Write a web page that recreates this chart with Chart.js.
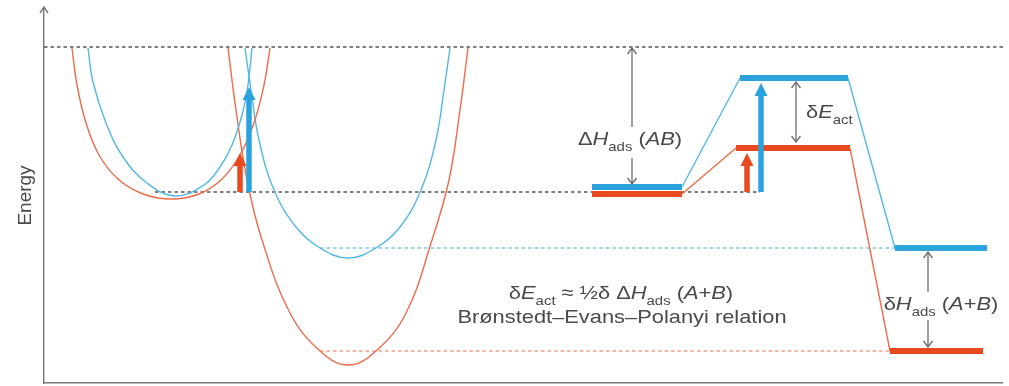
<!DOCTYPE html>
<html lang="en">
<head>
<meta charset="UTF-8">
<title>Brønstedt–Evans–Polanyi relation</title>
<script src="https://cdn.jsdelivr.net/npm/chart.js"></script>
<style>
  html, body { margin: 0; padding: 0; background: #fff; }
  canvas { display: block; }
</style>
</head>
<body>
<canvas id="bep" width="1009" height="386"></canvas>
<script>
// values, x = reaction coordinate, y = energy (arbitrary units)
const levelGas = 336;       // AB in the gas phase
const levelAB = 191;        // adsorbed AB
const levelBlueAB = 196;
const levelRedAB = 189;
const levelBlueTS = 305;
const levelRedTS = 235;
const levelBlueProd = 135;
const levelRedProd = 32;

// potential curves: adsorbed AB well and dissociated A+B well
const redWellAB = [[28,335],[33,298],[42,260],[55,228],[74,204],[99,189],[127,184],[155,189],[178,204],[196,228],[210,260],[220,298],[226,335]];
const blueWellAB = [[44,335],[49,301],[62,260],[79,226],[103,200],[131,187],[160,198],[176,216],[188,238],[198,268],[204,298],[208,335]];
const redWellProd = [[184,335],[192,273],[203,203],[218,143],[246,70],[276,32],[304,18],[332,32],[362,70],[388,143],[405,203],[416,273],[424,335]];
const blueWellProd = [[201,335],[207,293],[215,243],[230,193],[252,156],[276,135],[304,125],[332,135],[356,156],[377,193],[392,243],[400,293],[406,335]];

// energy diagram: initial state, transition state, final state
const bluePath = [[548,levelBlueAB],[638,levelBlueAB],[696,levelBlueTS],[804,levelBlueTS],[851,levelBlueProd],[943,levelBlueProd]];
const redPath = [[548,levelRedAB],[638,levelRedAB],[692,levelRedTS],[806,levelRedTS],[846,levelRedProd],[939,levelRedProd]];

// reference lines
const gasLine = [[0,levelGas],[962,levelGas]];
const abLine = [[111,levelAB],[716,levelAB]];
const blueProdLine = [[276,levelBlueProd],[851,levelBlueProd]];
const redProdLine = [[276,levelRedProd],[846,levelRedProd]];

// activation arrows
const redArrowWell = [[196,levelAB],[196,230]];
const blueArrowWell = [[205,levelAB],[205,296]];
const redArrowTS = [[703,levelAB],[703,230]];
const blueArrowTS = [[717,levelAB],[717,300]];

// gray dimension arrows
const dHabUp = [[588,256],[588,335]];
const dHabDown = [[588,225],[588,199]];
const dEact = [[752,241],[752,301]];
const dHprodUp = [[884,91],[884,131]];
const dHprodDown = [[884,63],[884,36]];

const RED = '#e8491e';
const RED_THIN = '#ee6b49';
const RED_DASH = '#f39f86';
const BLUE = '#2aa3dc';
const BLUE_THIN = '#52b9e6';
const BLUE_DASH = '#7ec9ec';
const GRAY = '#6a6a6a';
const TEXT = '#4a4a4a';
const FONT = '"Liberation Sans", Arial, Helvetica, sans-serif';
const TEXT_SX = 1.15;

const pts = arr => arr.map(p => ({ x: p[0], y: p[1] }));

function curve(data, color) {
    return { data: pts(data), showLine: true, pointRadius: 0, borderColor: color, borderWidth: 1.4,
             tension: 0.4, order: 2 };
}
function dashed(data, color) {
    return { data: pts(data), showLine: true, pointRadius: 0, borderColor: color, borderWidth: 1.3,
             borderDash: [3.5, 3], order: 3, clip: false };
}
function levels(data, thick, thin) {
    return { data: pts(data), showLine: true, pointRadius: 0, borderColor: thick, borderCapStyle: 'butt',
             order: 1,
             segment: {
                 borderWidth: c => c.p0DataIndex % 2 === 0 ? 6 : 1.4,
                 borderColor: c => c.p0DataIndex % 2 === 0 ? thick : thin
             } };
}
function arrow(data, color, kind, both) {
    return { data: pts(data), showLine: false, pointRadius: 0, arrow: { color: color, kind: kind, both: !!both } };
}

const datasets = [
    levels(bluePath, BLUE, BLUE_THIN),
    levels(redPath, RED, RED_THIN),
    curve(redWellAB, RED_THIN),
    curve(blueWellAB, BLUE_THIN),
    curve(redWellProd, RED_THIN),
    curve(blueWellProd, BLUE_THIN),
    dashed(gasLine, '#555'),
    dashed(abLine, '#555'),
    dashed(blueProdLine, BLUE_DASH),
    dashed(redProdLine, RED_DASH),
    arrow(redArrowWell, RED, 'filled'),
    arrow(blueArrowWell, BLUE, 'filled'),
    arrow(redArrowTS, RED, 'filled'),
    arrow(blueArrowTS, BLUE, 'filled'),
    arrow(dHabUp, GRAY, 'open'),
    arrow(dHabDown, GRAY, 'open'),
    arrow(dEact, GRAY, 'open', true),
    arrow(dHprodUp, GRAY, 'open'),
    arrow(dHprodDown, GRAY, 'open')
];

// annotation texts, runs: [text, flags] with i = italic, s = subscript
const labels = [
    { x: 586, y: 238, align: 'center', runs: [['\u0394'], ['H', 'i'], ['ads', 's'], [' ('], ['AB', 'i'], [')']] },
    { x: 762, y: 265, align: 'left', runs: [['\u03b4'], ['E', 'i'], ['act', 's']] },
    { x: 897, y: 73, align: 'center', runs: [['\u03b4'], ['H', 'i'], ['ads', 's'], [' ('], ['A', 'i'], ['+'], ['B', 'i'], [')']] },
    { x: 577, y: 84, align: 'center', runs: [['\u03b4'], ['E', 'i'], ['act', 's'], [' \u2248 \u00bd\u03b4 \u0394'], ['H', 'i'], ['ads', 's'], [' ('], ['A', 'i'], ['+'], ['B', 'i'], [')']] },
    { x: 578, y: 60, align: 'center', runs: [['Br\u00f8nstedt\u2013Evans\u2013Polanyi relation']] }
];

function drawHead(ctx, tx, ty, dx, dy, w, h, filled) {
    const px = -dy, py = dx;
    const bx = tx - dx * h, by = ty - dy * h;
    ctx.beginPath();
    ctx.moveTo(bx + px * w / 2, by + py * w / 2);
    ctx.lineTo(tx, ty);
    ctx.lineTo(bx - px * w / 2, by - py * w / 2);
    if (filled) { ctx.closePath(); ctx.fill(); } else { ctx.stroke(); }
}

const arrowPlugin = {
    id: 'arrows',
    afterDatasetsDraw(chart) {
        const ctx = chart.ctx;
        chart.data.datasets.forEach((ds, i) => {
            if (!ds.arrow) return;
            const el = chart.getDatasetMeta(i).data;
            const a = el[0], b = el[el.length - 1];
            const len = Math.hypot(b.x - a.x, b.y - a.y);
            const dx = (b.x - a.x) / len, dy = (b.y - a.y) / len;
            const filled = ds.arrow.kind === 'filled';
            const w = filled ? 13 : 9, h = filled ? 13 : 6;
            ctx.save();
            ctx.strokeStyle = ds.arrow.color;
            ctx.fillStyle = ds.arrow.color;
            ctx.lineWidth = filled ? 5.5 : 1.3;
            ctx.lineCap = 'butt';
            const cut = filled ? h - 1 : 0;
            ctx.beginPath();
            ctx.moveTo(a.x + (ds.arrow.both ? dx * cut : 0), a.y + (ds.arrow.both ? dy * cut : 0));
            ctx.lineTo(b.x - dx * cut, b.y - dy * cut);
            ctx.stroke();
            ctx.lineWidth = filled ? 1 : 1.3;
            drawHead(ctx, b.x, b.y, dx, dy, w, h, filled);
            if (ds.arrow.both) drawHead(ctx, a.x, a.y, -dx, -dy, w, h, filled);
            ctx.restore();
        });

        // arrow tip on the energy axis
        const area = chart.chartArea;
        ctx.save();
        ctx.strokeStyle = '#777';
        ctx.lineWidth = 1.4;
        drawHead(ctx, area.left, area.top - 1, 0, -1, 8, 6, false);
        ctx.restore();

        // texts
        const xs = chart.scales.x, ys = chart.scales.y;
        const size = 19;
        const fontFor = f => (f.indexOf('i') >= 0 ? 'italic ' : '') + (f.indexOf('s') >= 0 ? 13 : size) + 'px ' + FONT;
        ctx.save();
        ctx.fillStyle = TEXT;
        ctx.textBaseline = 'alphabetic';
        ctx.textAlign = 'left';
        labels.forEach(l => {
            let w = 0;
            l.runs.forEach(r => { ctx.font = fontFor(r[1] || ''); w += ctx.measureText(r[0]).width; });
            ctx.save();
            ctx.translate(xs.getPixelForValue(l.x), ys.getPixelForValue(l.y));
            ctx.scale(TEXT_SX, 1);
            let cx = l.align === 'center' ? -w / 2 : 0;
            l.runs.forEach(r => {
                const f = r[1] || '';
                ctx.font = fontFor(f);
                ctx.fillText(r[0], cx, f.indexOf('s') >= 0 ? 6 : 0);
                cx += ctx.measureText(r[0]).width;
            });
            ctx.restore();
        });
        ctx.restore();
    }
};

new Chart(document.getElementById('bep'), {
    type: 'scatter',
    data: { datasets: datasets },
    options: {
        responsive: false,
        animation: false,
        events: [],
        layout: { padding: { top: 8, right: 7, bottom: 2, left: 0 } },
        plugins: { legend: { display: false }, tooltip: { enabled: false } },
        scales: {
            x: {
                type: 'linear', min: 0, max: 958,
                ticks: { display: false },
                grid: { display: false, drawTicks: false },
                border: { color: '#777', width: 1.4 },
                afterFit: s => { s.height = 1; }
            },
            y: {
                type: 'linear', min: 0, max: 375,
                ticks: { display: false },
                grid: { display: false, drawTicks: false },
                border: { color: '#777', width: 1.4 },
                title: { display: true, text: 'Energy', color: TEXT, font: { size: 19, family: FONT }, padding: { top: 14, bottom: 0 } },
                afterFit: s => { s.width = 44; }
            }
        }
    },
    plugins: [arrowPlugin]
});
</script>
</body>
</html>
